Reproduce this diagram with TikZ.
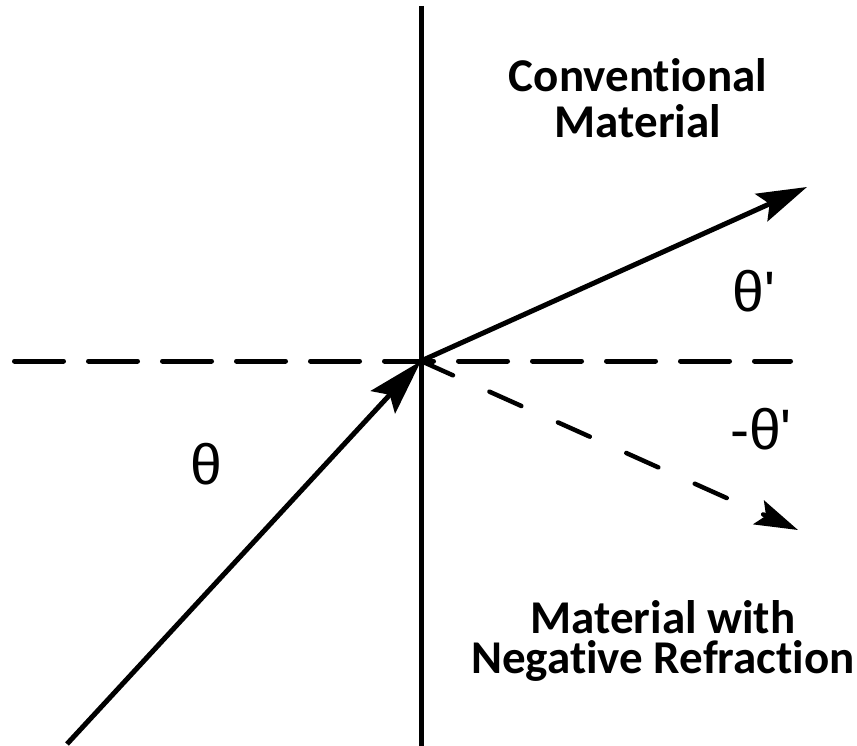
\documentclass[tikz,border=0pt]{standalone}
\usepackage{fontspec}
\newfontfamily\labfont{Carlito}[Ligatures={NoCommon}]
\newfontfamily\thfont{Liberation Sans}
\usetikzlibrary{arrows.meta}
\begin{document}
\begin{tikzpicture}[x=1pt,y=-1pt,
  axis/.style={line width=5pt},
  guide/.style={line width=5pt, line cap=round, dash pattern=on 49pt off 25pt},
  ray/.style={line width=5pt},
  dashray/.style={line width=4.5pt, line cap=round, dash pattern=on 35pt off 40pt},
  caption/.style={font=\labfont\bfseries\fontsize{47}{46}\selectfont, align=center, inner sep=0pt},
  ang/.style={font=\thfont\fontsize{57}{60}\selectfont, inner sep=0pt}]
\useasboundingbox (0,0) rectangle (857,746);
\coordinate (O) at (421,361);
\coordinate (vtop) at (421,6);
\coordinate (vbot) at (421,746);
\coordinate (hl) at (14.5,361);
\coordinate (hr) at (790.5,361);
\coordinate (src) at (67,744);
\coordinate (conv) at (807,187);
\coordinate (neg) at (798,530);
\draw[axis] (vtop) -- (vbot);
\draw[guide] (hl) -- (hr);
\draw[ray, -{Stealth[length=56pt,width=33pt,inset=10pt]}] (src) -- (O);
\draw[ray, -{Stealth[length=50pt,width=30pt,inset=9pt]}] (O) -- (conv);
\draw[dashray, -{Stealth[length=43pt,width=26pt,inset=8pt]}] (O) -- (neg);
\node[caption, anchor=base] (cm) at (638,138) {Conventional\\Material};
\node[caption, anchor=base, font=\labfont\bfseries\fontsize{47}{40}\selectfont] (nr) at (663,673) {Material with\\Negative Refraction};
\node[ang, anchor=base] (th) at (206,484) {θ};
\node[ang, anchor=base] (thp) at (754,311) {θ'};
\node[ang, anchor=base] (nthp) at (761,449) {-θ'};
\end{tikzpicture}
\end{document}
